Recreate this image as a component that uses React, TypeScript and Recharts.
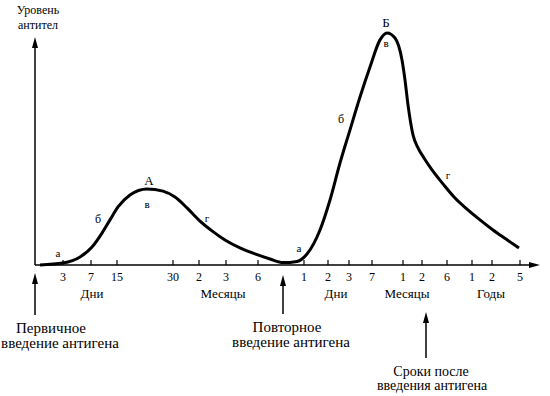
import { LineChart, Line, XAxis, YAxis, ReferenceLine, ReferenceDot } from "recharts"

// time is on a stretched, non-linear scale (0..100), level is relative (0..100)
const time = [1, 5.6, 9, 11.4, 13.4, 15, 16.6, 19, 22.4, 25.6, 28, 30.4, 33, 35.4, 38, 41, 44, 47, 49.6, 52.4, 54.4, 57, 59, 61, 63, 65, 67, 69, 70.4, 72, 73.4, 74, 74.6, 75.6, 76.6, 77.8, 79.4, 81.6, 84, 86.4, 89, 91.6, 94.2, 96.8]
const level = [0, 0.8, 3.3, 7.5, 13.3, 18.8, 24.2, 29.2, 31.7, 30.8, 28.3, 23.8, 18.3, 14.2, 10.4, 7.1, 4.6, 2.5, 1, 1.5, 4.6, 14.6, 27.1, 42.5, 56.3, 70, 82.5, 93.8, 96.7, 94.6, 85.4, 77.1, 66.7, 54.2, 48.8, 44.6, 39.6, 33.8, 27.9, 23.3, 18.8, 14.6, 10.8, 7.1]

const tickPos = [5.6, 11.2, 16.4, 27.6, 32.8, 38.2, 44.6, 53.8, 58.6, 62.8, 67.4, 73.6, 77.4, 82.4, 87.4, 91.4, 97]
const tickText = ["3", "7", "15", "30", "2", "3", "6", "1", "2", "3", "7", "1", "2", "6", "1", "2", "5"]

const unitPos = [11.4, 37.6, 60.2, 74.4, 91.2]
const unitText = ["Дни", "Месяцы", "Дни", "Месяцы", "Годы"]

// phase letters on the curve
const markText = ["а", "б", "А", "в", "г", "а", "б", "Б", "в", "г"]
const markTime = [4.6, 12.6, 22.8, 22.4, 34.4, 52.8, 61.2, 70.2, 70.2, 82.6]
const markLevel = [5, 19, 35.4, 25.4, 19.6, 7, 61, 101, 92.5, 37.5]
const markSize = [11, 12, 13, 11, 11, 11, 12, 13, 11, 11]

const data = time.map((t, i) => ({ t, level: level[i] }))

const FONT = "'Liberation Serif', 'Times New Roman', serif"
const txt = { fontFamily: FONT, fill: "#000" }

function TimeTick(props: any) {
  const { x, y, payload } = props
  const i = tickPos.indexOf(payload.value)
  return (
    <g>
      <line x1={x} y1={y} x2={x} y2={y - 5} stroke="#000" strokeWidth={1.2} />
      <text x={x} y={y + 12} textAnchor="middle" dominantBaseline="central" fontSize={12} style={txt}>
        {tickText[i]}
      </text>
    </g>
  )
}

// upward arrow with caption under it
function upArrow(lines: string[], dx: number[], fontSize: number, gap: number) {
  return (p: any) => {
    const x = p.x1
    const yb = Math.max(p.y1, p.y2)
    const yt = Math.min(p.y1, p.y2)
    return (
      <g>
        <line x1={x} y1={yb} x2={x} y2={yt + 8} stroke="#000" strokeWidth={1.5} />
        <polygon points={`${x},${yt} ${x - 3},${yt + 11} ${x + 3},${yt + 11}`} fill="#000" />
        {lines.map((s, k) => (
          <text key={k} x={x + dx[k]} y={yb + 13 + k * gap} textAnchor="middle" dominantBaseline="central" fontSize={fontSize} style={txt}>
            {s}
          </text>
        ))}
      </g>
    )
  }
}

function rightArrow(p: any) {
  const x1 = Math.min(p.x1, p.x2)
  const x2 = Math.max(p.x1, p.x2)
  const y = p.y1
  return (
    <g>
      <line x1={x1} y1={y} x2={x2 - 8} y2={y} stroke="#000" strokeWidth={1.5} />
      <polygon points={`${x2},${y} ${x2 - 11},${y - 3} ${x2 - 11},${y + 3}`} fill="#000" />
    </g>
  )
}

function Letter(text: string, size: number) {
  return (p: any) => (
    <text x={p.cx} y={p.cy} textAnchor="middle" dominantBaseline="central" fontSize={size} style={txt}>
      {text}
    </text>
  )
}

export default function App() {
  return (
    <div style={{ position: "absolute", left: 0, top: 0, width: 550, height: 396, background: "#fff" }}>
      <LineChart width={550} height={396} data={data} margin={{ top: 25, right: 15, left: 35, bottom: 113 }}>
        <XAxis
          dataKey="t"
          type="number"
          domain={[0, 100]}
          ticks={tickPos}
          interval={0}
          axisLine={false}
          tickLine={false}
          tickSize={0}
          tickMargin={0}
          height={18}
          tick={<TimeTick />}
        />
        <YAxis type="number" domain={[0, 100]} hide />

        {/* axes with arrows */}
        <ReferenceLine
          segment={[{ x: 0, y: 0 }, { x: 0, y: 95 }]}
          ifOverflow="visible"
          shape={(p: any) => {
            const x = p.x1
            const yb = Math.max(p.y1, p.y2)
            const yt = Math.min(p.y1, p.y2)
            return (
              <g>
                <line x1={x} y1={yb} x2={x} y2={yt + 8} stroke="#000" strokeWidth={1.5} />
                <polygon points={`${x},${yt} ${x - 3},${yt + 11} ${x + 3},${yt + 11}`} fill="#000" />
                <text x={x + 3} y={yt - 27} textAnchor="middle" dominantBaseline="central" fontSize={12} style={txt}>Уровень</text>
                <text x={x + 3} y={yt - 12} textAnchor="middle" dominantBaseline="central" fontSize={12} style={txt}>антител</text>
              </g>
            )
          }}
        />
        <ReferenceLine segment={[{ x: 0, y: 0 }, { x: 101, y: 0 }]} ifOverflow="visible" shape={rightArrow} />

        {/* antigen injections and time caption */}
        <ReferenceLine
          segment={[{ x: 0, y: -20.8 }, { x: 0, y: -3.3 }]}
          ifOverflow="visible"
          shape={upArrow(["Первичное", "введение антигена"], [16, 25], 15, 15)}
        />
        <ReferenceLine
          segment={[{ x: 49.6, y: -20.4 }, { x: 49.6, y: -4.2 }]}
          ifOverflow="visible"
          shape={upArrow(["Повторное", "введение антигена"], [4, 8], 15, 15)}
        />
        <ReferenceLine
          segment={[{ x: 78.2, y: -38.8 }, { x: 78.2, y: -19.6 }]}
          ifOverflow="visible"
          shape={upArrow(["Сроки после", "введения антигена"], [5, 6], 14, 14)}
        />

        <Line
          type="monotone"
          dataKey="level"
          stroke="#000"
          strokeWidth={3}
          dot={false}
          activeDot={false}
          isAnimationActive={false}
        />

        {markText.map((s, i) => (
          <ReferenceDot
            key={"m" + i}
            x={markTime[i]}
            y={markLevel[i]}
            r={0}
            ifOverflow="visible"
            shape={Letter(s, markSize[i])}
          />
        ))}

        {/* time units under the tick labels */}
        {unitText.map((s, i) => (
          <ReferenceDot
            key={"u" + i}
            x={unitPos[i]}
            y={-11.7}
            r={0}
            ifOverflow="visible"
            shape={Letter(s, 13)}
          />
        ))}
      </LineChart>
    </div>
  )
}
